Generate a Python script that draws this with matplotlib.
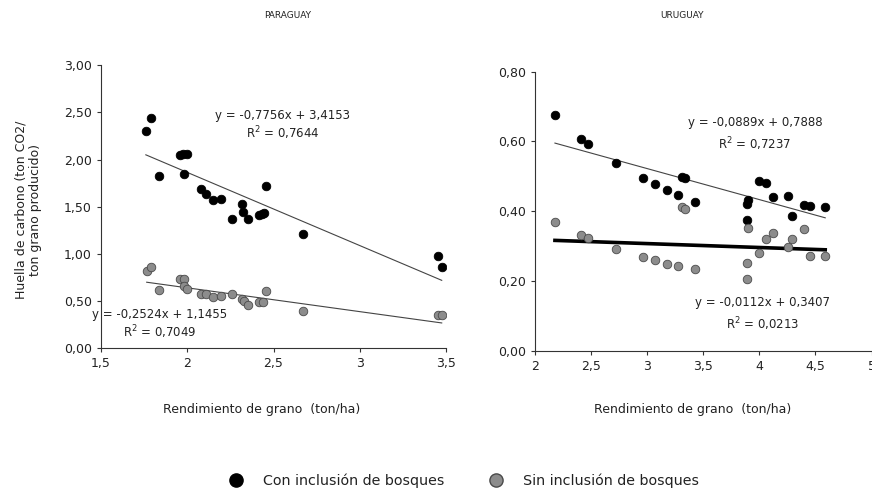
import matplotlib
matplotlib.use("Agg")
import matplotlib.pyplot as plt
import numpy as np
from matplotlib.ticker import FuncFormatter
from matplotlib.lines import Line2D

# Paraguay: yield (ton/ha) vs carbon footprint
py_x_con = [1.76, 1.788, 1.838, 1.96, 1.974, 1.997, 1.983, 2.08, 2.107, 2.151, 2.197,
            2.259, 2.317, 2.325, 2.354, 2.416, 2.435, 2.444, 2.456, 2.673, 3.452, 3.475]
py_y_con = [2.30, 2.44, 1.83, 2.05, 2.055, 2.055, 1.846, 1.684, 1.635, 1.567, 1.585,
            1.373, 1.525, 1.44, 1.373, 1.41, 1.42, 1.43, 1.723, 1.214, 0.974, 0.861]
py_x_sin = [1.765, 1.79, 1.838, 1.96, 1.98, 1.983, 1.997, 2.08, 2.107, 2.151, 2.197,
            2.259, 2.317, 2.327, 2.354, 2.416, 2.44, 2.456, 2.673, 3.452, 3.475]
py_y_sin = [0.819, 0.865, 0.621, 0.731, 0.731, 0.663, 0.632, 0.579, 0.57, 0.54, 0.558,
            0.579, 0.522, 0.50, 0.455, 0.494, 0.494, 0.61, 0.398, 0.353, 0.353]

# Uruguay
uy_x = [2.178, 2.41, 2.472, 2.722, 2.96, 3.07, 3.18, 3.277, 3.31, 3.34, 3.426,
        3.887, 3.893, 3.896, 4.0, 4.06, 4.12, 4.252, 4.287, 4.397, 4.45, 4.587]
uy_y_con = [0.677, 0.608, 0.594, 0.538, 0.495, 0.477, 0.46, 0.447, 0.499, 0.496, 0.426,
            0.375, 0.42, 0.431, 0.487, 0.48, 0.441, 0.444, 0.387, 0.419, 0.415, 0.411]
uy_y_sin = [0.368, 0.333, 0.323, 0.293, 0.27, 0.261, 0.25, 0.244, 0.411, 0.406, 0.234,
            0.205, 0.251, 0.351, 0.28, 0.321, 0.337, 0.296, 0.319, 0.348, 0.272, 0.272]

# fitted lines (slope, intercept) as printed on the chart
py_fit_con = (-0.7756, 3.4153)
py_fit_sin = (-0.2524, 1.1455)
uy_fit_con = (-0.0889, 0.7888)
uy_fit_sin = (-0.0112, 0.3407)

TXT = "#222222"
GRAY = "#8c8c8c"


def comma(v, pos):
    s = "%g" % v
    return s.replace(".", ",")


def comma2(v, pos):
    return ("%.2f" % v).replace(".", ",")


def style_axes(ax):
    for s in ["top", "right"]:
        ax.spines[s].set_visible(False)
    for s in ["left", "bottom"]:
        ax.spines[s].set_linewidth(0.8)
        ax.spines[s].set_color("#333333")
    ax.tick_params(direction="out", length=3, width=0.8, labelsize=9,
                   colors="#333333", labelcolor=TXT)
    ax.yaxis.set_major_formatter(FuncFormatter(comma2))
    ax.xaxis.set_major_formatter(FuncFormatter(comma))


def fit_line(ax, xs, fit, lw, color):
    xr = np.array([min(xs), max(xs)])
    ax.plot(xr, fit[0] * xr + fit[1], color=color, lw=lw, zorder=2)


fig = plt.figure(figsize=(8.72, 4.94), dpi=100)

# Paraguay
ax1 = fig.add_axes([0.1158, 0.295, 0.3957, 0.573])
style_axes(ax1)
ax1.set_xlim(1.5, 3.5)
ax1.set_ylim(0, 3)
ax1.set_xticks([1.5, 2, 2.5, 3, 3.5])
ax1.set_yticks([0, 0.5, 1, 1.5, 2, 2.5, 3])
fit_line(ax1, py_x_con, py_fit_con, 0.8, "#444444")
fit_line(ax1, py_x_sin, py_fit_sin, 0.8, "#444444")
ax1.scatter(py_x_con, py_y_con, s=38, color="black", edgecolor="black", lw=0.6, zorder=3)
ax1.scatter(py_x_sin, py_y_sin, s=38, color=GRAY, edgecolor="#4a4a4a", lw=0.6, zorder=3)
ax1.text(2.555, 2.47, "y = -0,7756x + 3,4153", ha="center", va="center", fontsize=8.5, color=TXT)
ax1.text(2.555, 2.28, "R$^2$ = 0,7644", ha="center", va="center", fontsize=8.5, color=TXT)
ax1.text(1.842, 0.353, "y = -0,2524x + 1,1455", ha="center", va="center", fontsize=8.5, color=TXT)
ax1.text(1.842, 0.173, "R$^2$ = 0,7049", ha="center", va="center", fontsize=8.5, color=TXT)

# Uruguay
ax2 = fig.add_axes([0.6135, 0.29, 0.386, 0.565])
style_axes(ax2)
ax2.set_xlim(2, 5)
ax2.set_ylim(0, 0.8)
ax2.set_xticks([2, 2.5, 3, 3.5, 4, 4.5, 5])
ax2.set_yticks([0, 0.2, 0.4, 0.6, 0.8])
fit_line(ax2, uy_x, uy_fit_con, 0.8, "#444444")
fit_line(ax2, uy_x, uy_fit_sin, 2.6, "black")
ax2.scatter(uy_x, uy_y_con, s=38, color="black", edgecolor="black", lw=0.6, zorder=3)
ax2.scatter(uy_x, uy_y_sin, s=38, color=GRAY, edgecolor="#4a4a4a", lw=0.6, zorder=3)
ax2.text(3.96, 0.653, "y = -0,0889x + 0,7888", ha="center", va="center", fontsize=8.5, color=TXT)
ax2.text(3.96, 0.592, "R$^2$ = 0,7237", ha="center", va="center", fontsize=8.5, color=TXT)
ax2.text(4.03, 0.137, "y = -0,0112x + 0,3407", ha="center", va="center", fontsize=8.5, color=TXT)
ax2.text(4.03, 0.077, "R$^2$ = 0,0213", ha="center", va="center", fontsize=8.5, color=TXT)

# titles and axis labels
fig.text(288 / 872, 1 - 16 / 494, "PARAGUAY", ha="center", va="center", fontsize=6.5, color=TXT)
fig.text(682 / 872, 1 - 16 / 494, "URUGUAY", ha="center", va="center", fontsize=6.5, color=TXT)
fig.text(262 / 872, 1 - 410 / 494, "Rendimiento de grano  (ton/ha)", ha="center", va="center",
         fontsize=9, color=TXT)
fig.text(693 / 872, 1 - 410 / 494, "Rendimiento de grano  (ton/ha)", ha="center", va="center",
         fontsize=9, color=TXT)
fig.text(28 / 872, 1 - 210 / 494, "Huella de carbono (ton CO2/\nton grano producido)",
         rotation=90, ha="center", va="center", fontsize=9, color=TXT, multialignment="center")

handles = [
    Line2D([], [], ls="none", marker="o", markersize=9.5, markerfacecolor="black",
           markeredgecolor="black"),
    Line2D([], [], ls="none", marker="o", markersize=9.5, markerfacecolor=GRAY,
           markeredgecolor="#4a4a4a"),
]
fig.legend(handles, ["Con inclusión de bosques", "Sin inclusión de bosques"],
           loc="center", bbox_to_anchor=(0.528, 0.026), ncol=2, frameon=False,
           fontsize=10.3, handletextpad=0.9, columnspacing=2.6, labelcolor=TXT)

fig.savefig("out.png", dpi=100)
